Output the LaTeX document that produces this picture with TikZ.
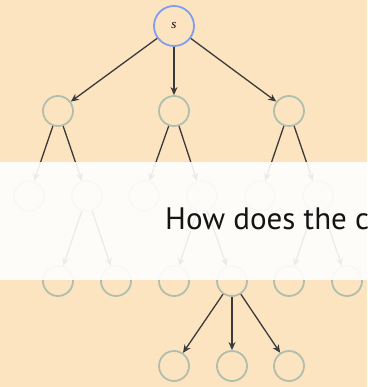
\documentclass[tikz,border=0pt]{standalone}
\usepackage{fontspec}
\setmainfont{PT Sans}
\newfontfamily\labelfont{Liberation Serif}
\usetikzlibrary{arrows.meta}
\definecolor{paper}{HTML}{FDE4C0}
\definecolor{ring}{HTML}{B0BEAE}
\definecolor{source}{HTML}{7E9EF0}
\definecolor{edge}{HTML}{3A3A3A}
\tikzset{
  vertex/.style={circle, draw=ring, line width=1.8pt, minimum size=30pt, inner sep=0pt},
  root/.style={circle, draw=source, line width=1.8pt, minimum size=40pt, inner sep=0pt,
    font=\labelfont\itshape\fontsize{13}{13}\selectfont},
  link/.style={draw=edge, line width=1.3pt, -{Stealth[length=8pt,width=7pt,inset=2.5pt]}},
  veil/.style={fill=white, fill opacity=0.9},
  caption/.style={anchor=base west, inner sep=0pt, text=black!92, font=\fontsize{31}{31}\selectfont}
}
\begin{document}
\begin{tikzpicture}[x=1pt, y=-1pt]
  \useasboundingbox (0,0) rectangle (367,387);
  \clip (0,0) rectangle (367,387);
  \fill[paper] (0,0) rectangle (367,387);

  % search tree
  \node[root] (s) at (174,26) {s};
  \node[vertex] (a1) at (58,111) {};
  \node[vertex] (a2) at (174,111) {};
  \node[vertex] (a3) at (289,111) {};
  \node[vertex] (b1) at (29,196) {};
  \node[vertex] (b2) at (87,196) {};
  \node[vertex] (b3) at (144,196) {};
  \node[vertex] (b4) at (202,196) {};
  \node[vertex] (b5) at (260,196) {};
  \node[vertex] (b6) at (318,196) {};
  \node[vertex] (c1) at (58,281) {};
  \node[vertex] (c2) at (116,281) {};
  \node[vertex] (c3) at (174,281) {};
  \node[vertex] (c4) at (232,281) {};
  \node[vertex] (c5) at (289,281) {};
  \node[vertex] (c6) at (347,281) {};
  \node[vertex] (d1) at (174,366) {};
  \node[vertex] (d2) at (232,366) {};
  \node[vertex] (d3) at (289,366) {};

  \foreach \u/\v in {s/a1, s/a2, s/a3, a1/b1, a1/b2, a2/b3, a2/b4, a3/b5, a3/b6,
                     b2/c1, b2/c2, b4/c3, b4/c4, b6/c5, b6/c6, c4/d1, c4/d2, c4/d3}
    \draw[link] (\u) -- (\v);

  % translucent strip with the question
  \fill[veil] (0,162) rectangle (367,279.5);
  \node[caption] (q) at (165,229.3) {How does the c};
\end{tikzpicture}
\end{document}
